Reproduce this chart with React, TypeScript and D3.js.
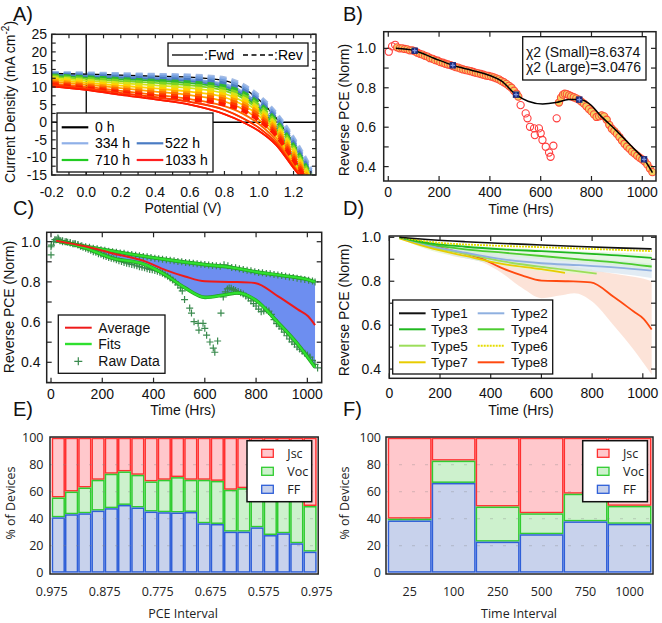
import React from "react";
import * as d3 from "d3";

const FONT = "'Liberation Sans', Arial, sans-serif";
const FONT2 = "'Open Sans', sans-serif";

// ---------------- Panel A data ----------------
const A_V = [-0.2, 0, 0.2, 0.4, 0.6, 0.8, 0.9, 1.0, 1.1, 1.2, 1.3];
const A_TIMES = [0, 90, 180, 270, 334, 430, 522, 610, 710, 800, 900, 1033];
const A_REV = [
  [14.0, 13.9, 13.7, 13.5, 13.3, 12.5, 10.8, 7.5, 2.5, -4.5, -13],
  [13.9, 13.7, 13.5, 13.3, 13.0, 12.1, 10.4, 7.1, 2.1, -5.0, -13.5],
  [13.8, 13.5, 13.2, 12.9, 12.6, 11.6, 9.9, 6.6, 1.6, -5.5, -14],
  [13.6, 13.2, 12.8, 12.4, 12.0, 11.0, 9.3, 6.0, 1.0, -6.0, -14.5],
  [13.3, 12.8, 12.3, 11.8, 11.3, 10.2, 8.6, 5.4, 0.4, -6.6, -15],
  [13.0, 12.3, 11.7, 11.1, 10.5, 9.4, 7.8, 4.7, -0.2, -7.2, -15.5],
  [12.6, 11.8, 11.0, 10.3, 9.7, 8.6, 7.0, 4.0, -0.8, -7.8, -16],
  [12.2, 11.3, 10.4, 9.6, 9.0, 7.8, 6.3, 3.3, -1.4, -8.4, -16.5],
  [11.8, 10.8, 9.8, 9.0, 8.3, 7.1, 5.6, 2.6, -2.0, -9.0, -17],
  [11.4, 10.4, 9.3, 8.4, 7.7, 6.4, 4.9, 1.9, -2.6, -9.6, -17.5],
  [11.0, 10.0, 8.8, 7.8, 7.1, 5.7, 4.2, 1.2, -3.2, -10.2, -18],
  [10.6, 9.6, 8.4, 7.3, 6.5, 5.0, 3.5, 0.5, -3.8, -10.8, -18.5],
];
const A_FWD = [
  [13.9, 13.7, 13.4, 13.1, 12.8, 11.8, 9.9, 6.4, 1.2, -6.0, -14.5],
  [13.7, 13.5, 13.2, 12.8, 12.3, 10.9, 8.9, 5.0, -0.8, -9.8, -17.5],
  [13.6, 13.3, 12.9, 12.5, 12.0, 10.5, 8.5, 4.7, -1.1, -10.0, -17.5],
  [13.4, 13.0, 12.6, 12.2, 11.6, 10.1, 8.1, 4.3, -1.4, -10.2, -17.5],
  [13.2, 12.7, 12.2, 11.8, 11.1, 9.6, 7.6, 3.9, -1.8, -10.5, -17.5],
  [12.9, 12.3, 11.7, 11.2, 10.5, 9.0, 7.0, 3.4, -2.2, -10.8, -18],
  [12.5, 11.8, 11.1, 10.5, 9.7, 8.1, 6.1, 2.7, -2.8, -11.2, -18],
  [12.0, 11.2, 10.4, 9.6, 8.7, 7.1, 5.1, 1.8, -3.5, -11.6, -18],
  [11.5, 10.7, 9.7, 8.7, 7.7, 5.9, 3.9, 0.7, -4.4, -12.0, -18.5],
  [11.0, 10.1, 8.9, 7.8, 6.6, 4.6, 2.6, -0.5, -5.2, -12.4, -18.5],
  [10.6, 9.6, 8.3, 7.1, 5.8, 3.5, 1.3, -1.6, -5.9, -12.7, -19],
  [10.2, 9.2, 7.8, 6.5, 5.0, 2.3, 0.2, -2.5, -6.5, -13.0, -19],
];
const A_COLORS = ["#a4bce4", "#8cb0ea", "#6f9ad8", "#4a7cc4", "#2fb82f", "#7ed421",
  "#d8e418", "#ffd000", "#ffa000", "#ff6a00", "#ff3a00", "#ff1a00"];
const A_LEG_LABELS = ["0 h", "334 h", "522 h", "710 h", "1033 h"];
const A_LEG_COLORS = ["#000000", "#8fb0e8", "#4a7cc4", "#22cc22", "#ff2020"];
const A_XTICKS = [-0.2, 0, 0.2, 0.4, 0.6, 0.8, 1.0, 1.2];
const A_YTICKS = [-15, -10, -5, 0, 5, 10, 15, 20, 25];

// ---------------- Panel B data ----------------
const B_MAIN_T = [35, 45, 55, 65, 75, 85, 95, 105, 115, 125, 135, 145, 155, 165, 175, 185, 195, 205, 215, 225, 235, 245, 255, 265, 275, 285, 295, 305, 315, 325, 335, 345, 355, 365, 375, 385, 395, 405, 415, 425, 435, 445, 455, 465, 475, 485, 495, 505, 512,
  672, 680, 688, 695, 703, 712, 720, 730, 740, 750, 760, 770, 780, 790, 800, 810, 820, 830, 840, 850, 860, 870, 880, 890, 900, 910, 920, 930, 940, 950, 960, 970, 980, 990, 1000, 1010, 1020, 1030, 1040];
const B_MAIN_V = [1.005, 1.0, 1.0, 0.997, 0.995, 0.99, 0.99, 0.985, 0.978, 0.972, 0.968, 0.962, 0.958, 0.95, 0.947, 0.94, 0.937, 0.93, 0.927, 0.922, 0.918, 0.915, 0.91, 0.905, 0.902, 0.897, 0.893, 0.89, 0.887, 0.884, 0.88, 0.876, 0.873, 0.87, 0.866, 0.862, 0.86, 0.857, 0.853, 0.848, 0.843, 0.835, 0.828, 0.82, 0.81, 0.8, 0.785, 0.77, 0.755,
  0.725, 0.75, 0.765, 0.77, 0.768, 0.762, 0.757, 0.752, 0.746, 0.74, 0.73, 0.72, 0.706, 0.692, 0.68, 0.665, 0.652, 0.655, 0.66, 0.655, 0.638, 0.612, 0.592, 0.58, 0.566, 0.55, 0.532, 0.516, 0.502, 0.49, 0.476, 0.466, 0.455, 0.445, 0.436, 0.426, 0.41, 0.39, 0.372];
const B_OUT_T = [2, 15, 27, 521, 541, 548, 558, 574, 577, 593, 600, 607, 620, 633, 639, 650, 663];
const B_OUT_V = [0.983, 1.01, 1.018, 0.712, 0.67, 0.645, 0.602, 0.594, 0.56, 0.594, 0.569, 0.535, 0.501, 0.471, 0.45, 0.506, 0.645];
const FIT_T = [30, 104, 180, 254, 330, 400, 445, 503, 550, 608, 660, 710, 752, 800, 831, 896, 964, 1007, 1040];
const FIT_V = [1.0, 0.988, 0.95, 0.914, 0.888, 0.862, 0.835, 0.765, 0.732, 0.718, 0.725, 0.74, 0.74, 0.71, 0.665, 0.585, 0.495, 0.437, 0.37];
const KNOT_T = [104, 254, 503, 752, 1007];
const KNOT_V = [0.988, 0.914, 0.765, 0.74, 0.437];
const CHI_LABELS = ["\u03C72 (Small)=8.6374", "\u03C72 (Large)=3.0476"];
const TIME_TICKS = [0, 200, 400, 600, 800, 1000];
const PCE_TICKS = [0.4, 0.6, 0.8, 1.0];

// ---------------- Panel C data ----------------
const UP_RAW_T = [10, 20, 30, 45, 60, 75, 90, 105, 120, 135, 150, 165, 180, 195, 210, 225, 240, 255, 270, 285, 300, 315, 330, 345, 360, 375, 390, 405, 420, 435, 450, 465, 480, 495, 510, 525, 540, 555, 570, 585, 600, 615, 630, 645, 660, 675, 690, 705, 720, 735, 750, 765, 780, 795, 810, 825, 840, 855, 870, 885, 900, 915, 930, 945, 960, 975, 990, 1005, 1020, 1030];
const UP_RAW_V = [1.0, 1.01, 1.012, 1.005, 1.0, 0.995, 0.99, 0.985, 0.98, 0.975, 0.972, 0.968, 0.965, 0.96, 0.958, 0.953, 0.95, 0.947, 0.944, 0.942, 0.938, 0.936, 0.932, 0.93, 0.927, 0.925, 0.922, 0.918, 0.915, 0.913, 0.91, 0.908, 0.905, 0.902, 0.9, 0.897, 0.895, 0.893, 0.89, 0.888, 0.886, 0.884, 0.882, 0.88, 0.878, 0.885, 0.88, 0.872, 0.87, 0.866, 0.862, 0.858, 0.855, 0.85, 0.847, 0.845, 0.842, 0.84, 0.837, 0.834, 0.832, 0.828, 0.825, 0.822, 0.818, 0.815, 0.812, 0.808, 0.805, 0.8];
const EARLY_T = [0, 0];
const EARLY_V = [0.934, 0.975];
const UP_FIT_T = [20, 100, 200, 300, 400, 500, 600, 700, 800, 900, 1000, 1030];
const UP_FIT_V = [1.005, 0.985, 0.962, 0.94, 0.92, 0.902, 0.886, 0.873, 0.85, 0.832, 0.812, 0.8];
const LOW_FIT_T = [20, 60, 133, 237, 367, 445, 523, 601, 679, 730, 796, 887, 964, 1030];
const LOW_FIT_V = [1.005, 0.995, 0.969, 0.919, 0.886, 0.836, 0.77, 0.723, 0.736, 0.745, 0.711, 0.596, 0.488, 0.375];
const AVG_T = [20, 133, 237, 367, 445, 523, 601, 704, 795, 886, 964, 1003, 1030];
const AVG_V = [1.005, 0.977, 0.943, 0.902, 0.86, 0.827, 0.803, 0.8, 0.795, 0.728, 0.662, 0.629, 0.585];
const C_LEG = ["Average", "Fits", "Raw Data"];

// ---------------- Panel D data ----------------
const TYPE_NAMES = ["Type1", "Type2", "Type3", "Type4", "Type5", "Type6", "Type7", "Type8"];
const T1_T = [40, 150, 300, 450, 600, 750, 900, 1035];
const T1_V = [1.0, 0.99, 0.98, 0.972, 0.965, 0.958, 0.952, 0.947];
const T2_T = [40, 150, 300, 450, 600, 750, 900, 1035];
const T2_V = [1.0, 0.965, 0.93, 0.9, 0.882, 0.873, 0.862, 0.848];
const T3_T = [40, 150, 300, 450, 600, 750, 900, 1035];
const T3_V = [1.0, 0.975, 0.957, 0.945, 0.937, 0.928, 0.918, 0.906];
const T4_T = [40, 150, 300, 450, 600, 750, 900, 1035];
const T4_V = [1.0, 0.97, 0.945, 0.93, 0.915, 0.9, 0.885, 0.867];
const T5_T = [40, 150, 300, 450, 600, 700, 818];
const T5_V = [1.0, 0.96, 0.925, 0.89, 0.865, 0.852, 0.835];
const T6_T = [40, 200, 400, 600, 800, 1035];
const T6_V = [1.0, 0.975, 0.963, 0.955, 0.947, 0.937];
const T7_T = [40, 150, 300, 450, 600, 693];
const T7_V = [0.995, 0.955, 0.915, 0.878, 0.855, 0.838];
const T8_T = [40, 133, 237, 367, 445, 523, 601, 704, 795, 886, 964, 1003, 1035];
const T8_V = [1.0, 0.977, 0.943, 0.902, 0.86, 0.827, 0.803, 0.8, 0.795, 0.728, 0.662, 0.629, 0.58];
const B8_UP_T = [40, 100, 200, 300, 400, 500, 600, 700, 800, 900, 1000, 1035];
const B8_UP_V = [1.0, 0.985, 0.962, 0.94, 0.92, 0.902, 0.886, 0.873, 0.85, 0.832, 0.812, 0.8];
const B8_LO_T = [40, 133, 237, 367, 445, 523, 601, 679, 730, 796, 887, 964, 1035];
const B8_LO_V = [1.0, 0.969, 0.919, 0.886, 0.836, 0.77, 0.723, 0.736, 0.745, 0.711, 0.596, 0.488, 0.375];
const B2_T = [40, 300, 600, 900, 1035];
const B2_LO = [1.0, 0.905, 0.86, 0.835, 0.815];
const B2_HI = [1.0, 0.955, 0.915, 0.895, 0.88];
const B4_T = [40, 300, 600, 900, 1035];
const B4_LO = [1.0, 0.935, 0.9, 0.87, 0.855];
const B4_HI = [1.0, 0.965, 0.945, 0.93, 0.925];
const B5_T = [40, 150, 300, 450, 600, 800];
const B5_LO = [0.995, 0.945, 0.905, 0.87, 0.845, 0.83];
const B5_HI = [1.0, 0.975, 0.945, 0.91, 0.88, 0.855];
const TYPE_COLORS = ["#111111", "#8fb0e0", "#1fb81f", "#4ccc30", "#9cde5a", "#e6dc00", "#e8cc00", "#ff4a10"];

// ---------------- Panel E / F data ----------------
const E_FF = [41, 43.3, 44, 46, 47.8, 50.2, 48.3, 45.3, 44.8, 44.6, 45, 36.6, 36.1, 30.4, 30.4, 33.6, 27.9, 29.2, 21.8, 15.6];
const E_VOC = [14.7, 16.8, 19.1, 22.8, 25.5, 24.8, 24.2, 22.3, 24, 26.2, 23.8, 32.2, 31.9, 31, 32.2, 26.4, 30.1, 27.8, 33.2, 33.8];
const E_JSC = [44.3, 39.9, 36.9, 31.2, 26.7, 25, 27.5, 32.4, 31.2, 29.2, 31.2, 31.2, 32, 38.6, 37.4, 40, 42, 43, 45, 50.6];
const E_LABELS = ["0.975", "0.875", "0.775", "0.675", "0.575", "0.975"];
const F_LABELS = ["25", "100", "250", "500", "750", "1000"];
const F_FF = [38.7, 66.5, 23, 28.5, 38, 36.2];
const F_VOC = [1.3, 16.5, 26, 15.5, 20.5, 13.3];
const F_JSC = [60, 17, 51, 56, 41.5, 50.5];
const PCT_TICKS = [0, 20, 40, 60, 80, 100];
const PARAM_NAMES = ["Jsc", "Voc", "FF"];
const PARAM_FILL = ["#ffc8cc", "#cdf1cd", "#c8d2ec"];
const PARAM_STROKE = ["#ff3030", "#30cc30", "#2f5fd8"];

// ---------------- helpers ----------------
type P = [number, number];
const pts = (ts: number[], vs: number[]): P[] => ts.map((t, i) => [t, vs[i]] as P);

function mkLine(xs: any, ys: any, curve: any = d3.curveMonotoneX) {
  return d3.line<P>().x((d) => xs(d[0])).y((d) => ys(d[1])).curve(curve);
}

function bandPath(xs: any, ys: any, upT: number[], upV: number[], loT: number[], loV: number[]) {
  const g = mkLine(xs, ys);
  const up = g(pts(upT, upV)) as string;
  const lo = g(pts(loT, loV).reverse()) as string;
  return up + "L" + lo.slice(1) + "Z";
}

function Frame({ xs, ys, xt, yt, len = 5 }: any) {
  const [x0, x1] = xs.range();
  const [y0, y1] = ys.range();
  const lines: any[] = [];
  xt.forEach((v: number, i: number) => {
    const x = xs(v);
    lines.push(<line key={"xb" + i} x1={x} x2={x} y1={y0} y2={y0 - len} />);
    lines.push(<line key={"xt" + i} x1={x} x2={x} y1={y1} y2={y1 + len} />);
  });
  yt.forEach((v: number, i: number) => {
    const y = ys(v);
    lines.push(<line key={"yl" + i} x1={x0} x2={x0 + len} y1={y} y2={y} />);
    lines.push(<line key={"yr" + i} x1={x1} x2={x1 - len} y1={y} y2={y} />);
  });
  return (
    <g stroke="#222" strokeWidth={1.2}>
      {lines}
      <rect x={x0} y={y1} width={x1 - x0} height={y0 - y1} fill="none" strokeWidth={1.5} />
    </g>
  );
}

function Plus({ x, y, s = 3.5, color }: any) {
  return <path d={`M${x - s},${y}H${x + s}M${x},${y - s}V${y + s}`} stroke={color} strokeWidth={1.2} />;
}

// ---------------- Panel A ----------------
function PanelA() {
  const xs = d3.scaleLinear().domain([-0.2, 1.33]).range([51.7, 316]);
  const ys = d3.scaleLinear().domain([-15, 25]).range([175, 34.3]);
  const g = mkLine(xs, ys);
  return (
    <g>
      <defs>
        <clipPath id="clipA"><rect x={51.7} y={34.3} width={316 - 51.7} height={175 - 34.3} /></clipPath>
      </defs>
      <g clipPath="url(#clipA)">
        <line x1={xs(0)} x2={xs(0)} y1={34.3} y2={175} stroke="#000" strokeWidth={1.3} />
        <line x1={51.7} x2={316} y1={ys(0)} y2={ys(0)} stroke="#000" strokeWidth={1.3} />
        {A_FWD.map((c, i) => i > 0 ? (
          <path key={"f" + i} d={g(pts(A_V, c)) as string} fill="none" stroke={A_COLORS[i]} strokeWidth={1.8} />
        ) : null)}
        <path d={g(pts(A_V, A_FWD[0])) as string} fill="none" stroke="#000" strokeWidth={1.3} />
        {A_REV.map((c, i) => (
          <path key={"r" + i} d={g(pts(A_V, c)) as string} fill="none" stroke={A_COLORS[i]} strokeWidth={3.9} strokeDasharray="7,5" />
        ))}
        <path d={g(pts(A_V, A_FWD[10])) as string} fill="none" stroke="#ff3a00" strokeWidth={1.4} />
        <path d={g(pts(A_V, A_FWD[11])) as string} fill="none" stroke="#ff1a00" strokeWidth={1.6} />
      </g>
      <Frame xs={xs} ys={ys} xt={d3.range(-0.2, 1.31, 0.1)} yt={d3.range(-15, 25.1, 2.5)} len={4} />
      <g fontFamily={FONT} fontSize={14} fill="#111">
        {A_XTICKS.map((v) => (
          <text key={v} x={xs(v)} y={197} textAnchor="middle">{v.toFixed(1)}</text>
        ))}
        {A_YTICKS.map((v) => (
          <text key={v} x={47} y={ys(v) + 5} textAnchor="end">{v}</text>
        ))}
        <text x={183} y={213} textAnchor="middle">Potential (V)</text>
        <text transform="translate(15,102) rotate(-90)" textAnchor="middle">
          Current Density (mA cm<tspan dy={-6} fontSize={10}>-2</tspan><tspan dy={6}>)</tspan>
        </text>
      </g>
      {/* Fwd/Rev legend */}
      <g fontFamily={FONT} fontSize={14}>
        <rect x={168} y={43} width={140} height={23} fill="#fff" stroke="#111" strokeWidth={1.3} />
        <line x1={172} x2={203} y1={55} y2={55} stroke="#000" strokeWidth={1.3} />
        <text x={204} y={60}>:Fwd</text>
        <line x1={243} x2={273} y1={55} y2={55} stroke="#000" strokeWidth={1.3} strokeDasharray="5,3.5" />
        <text x={274} y={60}>:Rev</text>
      </g>
      {/* Time legend */}
      <g fontFamily={FONT} fontSize={14}>
        <rect x={57} y={113} width={156} height={59} fill="#fff" stroke="#111" strokeWidth={1.3} />
        {[[0, 0], [1, 0], [1, 1], [2, 0], [2, 1]].map(([r, c], k) => {
          const y = [127.3, 143.3, 160][r];
          const lx = c === 0 ? 61.7 : 136.7;
          const tx = c === 0 ? 95 : 165;
          return (
            <g key={k}>
              <line x1={lx} x2={lx + 26.6} y1={y} y2={y} stroke={A_LEG_COLORS[k]} strokeWidth={2.2} />
              <text x={tx} y={y + 5}>{A_LEG_LABELS[k]}</text>
            </g>
          );
        })}
      </g>
    </g>
  );
}

// ---------------- Panel B ----------------
function PanelB() {
  const xs = d3.scaleLinear().domain([-18, 1054]).range([383.7, 656]);
  const ys = d3.scaleLinear().domain([0.327, 1.0845]).range([181, 31.7]);
  const g = mkLine(xs, ys);
  return (
    <g>
      {pts(B_OUT_T, B_OUT_V).map((d, i) => (
        <circle key={"o" + i} cx={xs(d[0])} cy={ys(d[1])} r={3.6} fill="none" stroke="#ff3b3b" strokeWidth={1.1} />
      ))}
      {pts(B_MAIN_T, B_MAIN_V).map((d, i) => (
        <circle key={"m" + i} cx={xs(d[0])} cy={ys(d[1])} r={3.6} fill="#f4cf62" stroke="#ff4a3a" strokeWidth={1.1} />
      ))}
      <path d={g(pts(FIT_T, FIT_V)) as string} fill="none" stroke="#000" strokeWidth={1.5} />
      {pts(KNOT_T, KNOT_V).map((d, i) => (
        <g key={"k" + i}>
          <rect x={xs(d[0]) - 3.2} y={ys(d[1]) - 3.2} width={6.4} height={6.4} fill="#1b2a7c" />
          <Plus x={xs(d[0])} y={ys(d[1])} s={2.2} color="#7d95e0" />
        </g>
      ))}
      <Frame xs={xs} ys={ys} xt={TIME_TICKS} yt={d3.range(0.4, 1.05, 0.1)} len={5} />
      <g fontFamily={FONT} fontSize={14} fill="#111">
        {TIME_TICKS.map((v) => (
          <text key={v} x={xs(v)} y={197} textAnchor="middle">{v}</text>
        ))}
        {PCE_TICKS.map((v) => (
          <text key={v} x={376} y={ys(v) + 5} textAnchor="end">{v.toFixed(1)}</text>
        ))}
        <text x={521} y={214} textAnchor="middle">Time (Hrs)</text>
        <text transform="translate(349,110) rotate(-90)" textAnchor="middle">Reverse PCE (Norm)</text>
        <rect x={522.7} y={36.7} width={123.3} height={43.3} fill="#fff" stroke="#111" strokeWidth={1.3} />
        <text x={526} y={56.5}>{CHI_LABELS[0]}</text>
        <text x={526} y={71.5}>{CHI_LABELS[1]}</text>
      </g>
    </g>
  );
}

// ---------------- Panel C ----------------
function PanelC() {
  const xs = d3.scaleLinear().domain([-16.8, 1056]).range([46.7, 321.7]);
  const ys = d3.scaleLinear().domain([0.2985, 1.0468]).range([382.7, 232.3]);
  const g = mkLine(xs, ys);
  const green = "#2fe02f";
  const pc = "#3a8a4e";
  return (
    <g>
      <path d={bandPath(xs, ys, UP_FIT_T, UP_FIT_V, LOW_FIT_T, LOW_FIT_V)} fill="#6d8ef0" />
      {pts(B_MAIN_T, B_MAIN_V).concat(pts(B_OUT_T, B_OUT_V)).concat(pts(UP_RAW_T, UP_RAW_V)).concat(pts(EARLY_T, EARLY_V)).map((d, i) => (
        <Plus key={i} x={xs(d[0])} y={ys(d[1])} color={pc} />
      ))}
      <path d={g(pts(UP_FIT_T, UP_FIT_V)) as string} fill="none" stroke="#22a022" strokeWidth={3.6} />
      <path d={g(pts(UP_FIT_T, UP_FIT_V)) as string} fill="none" stroke={green} strokeWidth={2.2} />
      <path d={g(pts(LOW_FIT_T, LOW_FIT_V)) as string} fill="none" stroke="#22a022" strokeWidth={3.6} />
      <path d={g(pts(LOW_FIT_T, LOW_FIT_V)) as string} fill="none" stroke={green} strokeWidth={2.2} />
      <path d={g(pts(AVG_T, AVG_V)) as string} fill="none" stroke="#ee1a1a" strokeWidth={2} />
      <Frame xs={xs} ys={ys} xt={TIME_TICKS} yt={d3.range(0.3, 1.05, 0.1)} len={5} />
      <g fontFamily={FONT} fontSize={14} fill="#111">
        {TIME_TICKS.map((v) => (
          <text key={v} x={xs(v)} y={399} textAnchor="middle">{v}</text>
        ))}
        {PCE_TICKS.map((v) => (
          <text key={v} x={40.5} y={ys(v) + 5} textAnchor="end">{v.toFixed(1)}</text>
        ))}
        <text x={183} y={415} textAnchor="middle">Time (Hrs)</text>
        <text transform="translate(13.5,307) rotate(-90)" textAnchor="middle">Reverse PCE (Norm)</text>
        <rect x={58.3} y={315} width={106.7} height={58.3} fill="#fff" stroke="#111" strokeWidth={1.3} />
        <line x1={65} x2={91.7} y1={327.7} y2={327.7} stroke="#ee1a1a" strokeWidth={2} />
        <text x={98.3} y={332.7}>{C_LEG[0]}</text>
        <line x1={65} x2={91.7} y1={344} y2={344} stroke={green} strokeWidth={2.4} />
        <text x={98.3} y={349}>{C_LEG[1]}</text>
        <Plus x={78.3} y={361.3} s={4} color={pc} />
        <text x={98.3} y={366.3}>{C_LEG[2]}</text>
      </g>
    </g>
  );
}

// ---------------- Panel D ----------------
function PanelD() {
  const xs = d3.scaleLinear().domain([0, 1052]).range([389.3, 656]);
  const ys = d3.scaleLinear().domain([0.358, 1.006]).range([378.3, 236]);
  const g = mkLine(xs, ys);
  const series = [
    [T1_T, T1_V], [T2_T, T2_V], [T3_T, T3_V], [T4_T, T4_V],
    [T5_T, T5_V], [T6_T, T6_V], [T7_T, T7_V], [T8_T, T8_V],
  ];
  const order = [7, 4, 6, 1, 3, 2, 5, 0];
  return (
    <g>
      <defs>
        <clipPath id="clipD"><rect x={389.3} y={236} width={656 - 389.3} height={378.3 - 236} /></clipPath>
      </defs>
      <g clipPath="url(#clipD)">
        <path d={bandPath(xs, ys, B8_UP_T, B8_UP_V, B8_LO_T, B8_LO_V)} fill="#fbd9cb" opacity={0.75} />
        <path d={bandPath(xs, ys, B5_T, B5_HI, B5_T, B5_LO)} fill="#e6f6cc" opacity={0.8} />
        <path d={bandPath(xs, ys, B2_T, B2_HI, B2_T, B2_LO)} fill="#d5e4f0" opacity={0.7} />
        <path d={bandPath(xs, ys, B4_T, B4_HI, B4_T, B4_LO)} fill="#d9f2d2" opacity={0.6} />
        {order.map((k) => (
          <path key={k} d={g(pts(series[k][0], series[k][1])) as string} fill="none" stroke={TYPE_COLORS[k]}
            strokeWidth={k === 0 ? 1.6 : 1.8} strokeDasharray={k === 5 ? "2,1" : undefined} />
        ))}
      </g>
      <Frame xs={xs} ys={ys} xt={TIME_TICKS} yt={d3.range(0.4, 1.05, 0.1)} len={5} />
      <g fontFamily={FONT} fontSize={14} fill="#111">
        {TIME_TICKS.map((v) => (
          <text key={v} x={xs(v)} y={398} textAnchor="middle">{v}</text>
        ))}
        {PCE_TICKS.map((v) => (
          <text key={v} x={381} y={ys(v) + 5} textAnchor="end">{v.toFixed(1)}</text>
        ))}
        <text x={521} y={415} textAnchor="middle">Time (Hrs)</text>
        <text transform="translate(349,310) rotate(-90)" textAnchor="middle">Reverse PCE (Norm)</text>
      </g>
      <g fontFamily={FONT} fontSize={13.5} fill="#111">
        <rect x={392.7} y={300} width={160} height={74} fill="#fff" stroke="#111" strokeWidth={1.3} />
        {TYPE_NAMES.map((n, k) => {
          const r = Math.floor(k / 2);
          const c = k % 2;
          const y = [313.3, 329.3, 345.7, 362.3][r];
          const lx = c === 0 ? 399 : 477.7;
          const tx = c === 0 ? 431 : 511;
          return (
            <g key={n}>
              <line x1={lx} x2={lx + 26.6} y1={y} y2={y} stroke={TYPE_COLORS[k]} strokeWidth={2}
                strokeDasharray={k === 5 ? "2,1" : undefined} />
              <text x={tx} y={y + 5}>{n}</text>
            </g>
          );
        })}
      </g>
    </g>
  );
}

// ---------------- Stacked bar panels ----------------
function Bars({ ff, voc, jsc, x0, x1, frameX0, labels, labelAt, yLabelX, title, titleX, yTitleX, legendX }: any) {
  const ys = d3.scaleLinear().domain([0, 100]).range([572.7, 437.7]);
  const xb = d3.scaleBand<number>().domain(d3.range(ff.length)).range([x0, x1]).padding(0);
  const bw = xb.bandwidth();
  const segs = (i: number) => [
    { lo: ff[i] + voc[i], hi: ff[i] + voc[i] + jsc[i], k: 0 },
    { lo: ff[i], hi: ff[i] + voc[i], k: 1 },
    { lo: 0, hi: ff[i], k: 2 },
  ];
  return (
    <g>
      {ff.map((_: number, i: number) => segs(i).map((s) => (
        <rect key={i + "-" + s.k} x={(xb(i) as number) + 0.75} y={ys(s.hi) + 0.75} width={bw - 1.5}
          height={Math.max(0, ys(s.lo) - ys(s.hi) - 1.5)} fill={PARAM_FILL[s.k]} stroke={PARAM_STROKE[s.k]} strokeWidth={1.5} />
      )))}
      {[20, 40, 60, 80].map((v) => (
        <line key={v} x1={frameX0} x2={x1} y1={ys(v)} y2={ys(v)} stroke="#888" strokeOpacity={0.35} strokeDasharray="3,10" />
      ))}
      <rect x={frameX0} y={437} width={x1 + 1.5 - frameX0} height={137} fill="none" stroke="#222" strokeWidth={1.5} />
      <g fontFamily={FONT2} fontSize={12.5} fill="#222">
        {PCT_TICKS.map((v) => (
          <text key={v} x={yLabelX} y={ys(v) + 4.5} textAnchor="end">{v}</text>
        ))}
        {labels.map((l: string, k: number) => (
          <text key={k} x={labelAt(xb, k)} y={596} textAnchor="middle">{l}</text>
        ))}
        <text x={titleX} y={618} textAnchor="middle">{title}</text>
        <text transform={`translate(${yTitleX},503) rotate(-90)`} textAnchor="middle">% of Devices</text>
        <rect x={legendX} y={440.7} width={64.7} height={61} fill="#fff" stroke="#111" strokeWidth={1.5} />
        {PARAM_NAMES.map((n, k) => {
          const y = [453.3, 471.3, 489.3][k];
          return (
            <g key={n}>
              <rect x={legendX + 14.7} y={y - 4} width={11.6} height={8} fill={PARAM_FILL[k]} stroke={PARAM_STROKE[k]} strokeWidth={1.3} />
              <text x={legendX + 40.3} y={y + 4.5}>{n}</text>
            </g>
          );
        })}
      </g>
    </g>
  );
}

export default function App() {
  return (
    <svg width={662} height={623} style={{ position: "absolute", left: 0, top: 0, background: "#fff" }}>
      <rect width={662} height={623} fill="#fff" />
      <PanelA />
      <PanelB />
      <PanelC />
      <PanelD />
      <Bars ff={E_FF} voc={E_VOC} jsc={E_JSC} x0={51.7} x1={316.7} frameX0={50} labels={E_LABELS}
        labelAt={(xb: any, k: number) => 51.7 + k * 4 * xb.bandwidth()} yLabelX={43.5} title="PCE Interval" titleX={183}
        yTitleX={14.5} legendX={247} />
      <Bars ff={F_FF} voc={F_VOC} jsc={F_JSC} x0={387.7} x1={651.5} frameX0={386} labels={F_LABELS}
        labelAt={(xb: any, k: number) => (xb(k) as number) + xb.bandwidth() / 2} yLabelX={381} title="Time Interval" titleX={519}
        yTitleX={348.5} legendX={582.7} />
      <g fontFamily={FONT} fontSize={20} fill="#111">
        <text x={13} y={21}>A)</text>
        <text x={343} y={21}>B)</text>
        <text x={13} y={215}>C)</text>
        <text x={343} y={215}>D)</text>
        <text x={13} y={416}>E)</text>
        <text x={343} y={416}>F)</text>
      </g>
    </svg>
  );
}
